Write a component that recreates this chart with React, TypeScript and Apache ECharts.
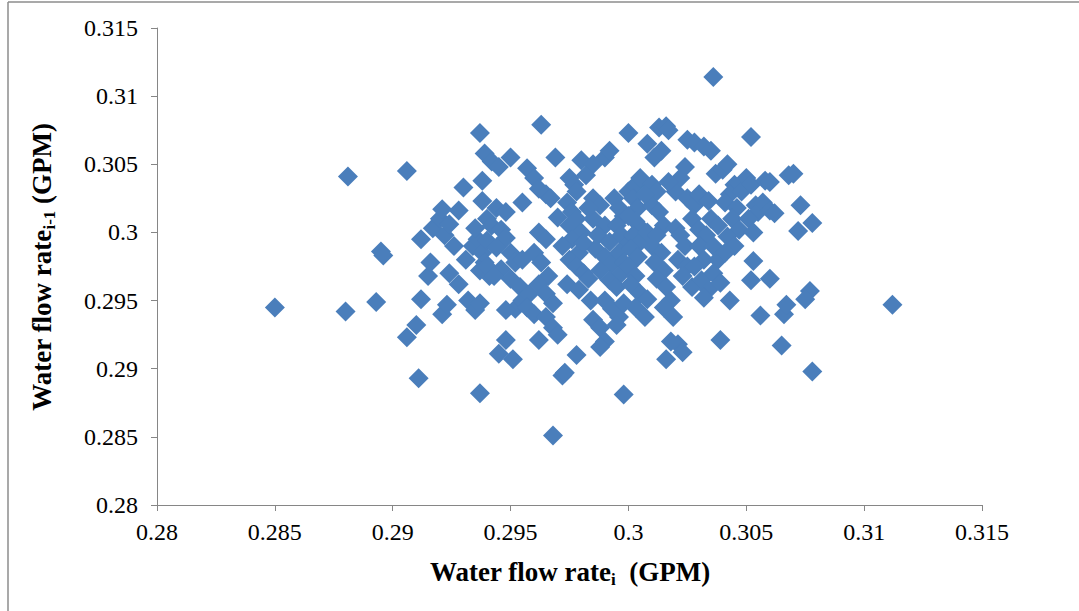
import React, { useEffect, useRef } from "react";
import * as echarts from "echarts";

// Axis ticks
const tickMin = 0.28;
const tickMax = 0.315;
const tickStep = 0.005;

// Scattered outer points [flow rate i, flow rate i-1]
const outerPoints: number[][] = [
  [0.285, 0.2945], [0.2881, 0.3041], [0.288, 0.2942], [0.2893, 0.2949],
  [0.2895, 0.2986], [0.2896, 0.2983], [0.2906, 0.3045], [0.2906, 0.2923],
  [0.291, 0.2932], [0.2911, 0.2893], [0.2912, 0.2995], [0.2912, 0.2951],
  [0.2937, 0.3073], [0.2937, 0.2882], [0.2945, 0.2911], [0.2948, 0.2921],
  [0.2951, 0.2907], [0.2963, 0.3079], [0.2968, 0.2851], [0.2972, 0.2895],
  [0.2973, 0.2897], [0.2978, 0.291], [0.2998, 0.2881], [0.3, 0.3073],
  [0.3008, 0.3065], [0.3013, 0.3077], [0.3016, 0.3078], [0.3017, 0.3075],
  [0.3036, 0.3114], [0.3052, 0.307], [0.3068, 0.3042], [0.307, 0.3043],
  [0.3073, 0.302], [0.3072, 0.3001], [0.3078, 0.3007], [0.3077, 0.2957],
  [0.3075, 0.2951], [0.3078, 0.2898], [0.3112, 0.2947], [0.3065, 0.2917],
  [0.3066, 0.294], [0.3067, 0.2947], [0.306, 0.2966], [0.3056, 0.2939],
  [0.3052, 0.2965], [0.3053, 0.2979], [0.3039, 0.2921], [0.3043, 0.295],
  [0.3021, 0.2918], [0.3023, 0.2912], [0.3016, 0.2907], [0.3018, 0.292],
];

// Left part of the cloud
const leftCloud: number[][] = [
  [0.2915, 0.2968], [0.2916, 0.2978], [0.2917, 0.3003], [0.292, 0.301],
  [0.2921, 0.3017], [0.2922, 0.2998], [0.2921, 0.294], [0.2923, 0.2947],
  [0.2924, 0.297], [0.2924, 0.3006], [0.2926, 0.299], [0.2928, 0.3016],
  [0.293, 0.3033], [0.2928, 0.2962], [0.2931, 0.298], [0.2932, 0.295],
  [0.2935, 0.2943], [0.2934, 0.299], [0.2936, 0.2995], [0.2938, 0.2985],
  [0.2939, 0.2978], [0.2937, 0.2972], [0.2941, 0.2968], [0.294, 0.2975],
  [0.2935, 0.3003], [0.294, 0.301], [0.2942, 0.3005], [0.2938, 0.3038],
  [0.2939, 0.3058], [0.2942, 0.3052], [0.294, 0.2994], [0.2938, 0.3023],
  [0.2945, 0.3048], [0.295, 0.3055], [0.2944, 0.3018], [0.2948, 0.3015],
  [0.2946, 0.3002], [0.2948, 0.2996], [0.2944, 0.2989], [0.295, 0.2985],
  [0.2952, 0.2978], [0.2955, 0.298], [0.2946, 0.2973], [0.2943, 0.2968],
  [0.295, 0.2966], [0.2954, 0.296], [0.2952, 0.2944], [0.2948, 0.2943],
  [0.2955, 0.295], [0.2958, 0.2955], [0.2957, 0.2945], [0.2937, 0.2948],
];

// Middle part of the cloud
const middleCloud: number[][] = [
  [0.2955, 0.3022], [0.2957, 0.3047], [0.296, 0.304], [0.2962, 0.3032],
  [0.2965, 0.3028], [0.2967, 0.3025], [0.2962, 0.3], [0.2965, 0.2995],
  [0.296, 0.2985], [0.2963, 0.2978], [0.2966, 0.2968], [0.2962, 0.2962],
  [0.2965, 0.2955], [0.2968, 0.2948], [0.296, 0.294], [0.2965, 0.2938],
  [0.2962, 0.2921], [0.2968, 0.293], [0.297, 0.2925], [0.297, 0.3011],
  [0.2969, 0.3055], [0.2975, 0.304], [0.2977, 0.3035], [0.298, 0.3053],
  [0.2978, 0.303], [0.2974, 0.3022], [0.2976, 0.3015], [0.2978, 0.301],
  [0.2975, 0.3005], [0.298, 0.3], [0.2976, 0.2995], [0.2972, 0.299],
  [0.2979, 0.2985], [0.2975, 0.298], [0.2978, 0.2975], [0.2981, 0.297],
  [0.2974, 0.2962], [0.2979, 0.2958], [0.2983, 0.2966], [0.2984, 0.295],
  [0.2985, 0.2936], [0.2988, 0.293], [0.299, 0.292], [0.2988, 0.2916],
  [0.2985, 0.305], [0.299, 0.3055], [0.2992, 0.306], [0.2985, 0.3025],
  [0.2988, 0.302], [0.2985, 0.301], [0.299, 0.3005], [0.2987, 0.2998],
  [0.2992, 0.2993], [0.2986, 0.2988], [0.299, 0.2982], [0.2993, 0.2977],
  [0.2988, 0.2972], [0.2992, 0.2965], [0.2995, 0.296], [0.299, 0.295],
  [0.2993, 0.2944], [0.2996, 0.2938], [0.2995, 0.2932], [0.2998, 0.2948],
  [0.2994, 0.3025], [0.2996, 0.3018], [0.2998, 0.3012], [0.2995, 0.3005],
  [0.2997, 0.2998], [0.2999, 0.299], [0.2996, 0.2985], [0.2998, 0.2978],
  [0.2997, 0.297], [0.2982, 0.3042], [0.2983, 0.3018], [0.2981, 0.2992],
];

// Right part of the cloud
const rightCloud: number[][] = [
  [0.3, 0.303], [0.3003, 0.3035], [0.3005, 0.304], [0.3002, 0.3025],
  [0.3004, 0.3018], [0.3, 0.3012], [0.3003, 0.3008], [0.3006, 0.3002],
  [0.3002, 0.2998], [0.3005, 0.2993], [0.3001, 0.2988], [0.3004, 0.2982],
  [0.3, 0.2975], [0.3003, 0.2968], [0.3001, 0.2962], [0.3005, 0.2955],
  [0.3003, 0.2945], [0.3007, 0.2938], [0.3008, 0.2951], [0.3008, 0.3],
  [0.301, 0.3035], [0.3012, 0.303], [0.3011, 0.3055], [0.3014, 0.306],
  [0.301, 0.302], [0.3013, 0.3015], [0.3015, 0.3005], [0.3012, 0.2998],
  [0.301, 0.299], [0.3014, 0.2985], [0.3011, 0.2978], [0.3015, 0.2972],
  [0.3012, 0.2966], [0.3016, 0.296], [0.3018, 0.295], [0.3015, 0.2945],
  [0.3019, 0.2938], [0.302, 0.303], [0.3022, 0.304], [0.3024, 0.3048],
  [0.3025, 0.3068], [0.3028, 0.3066], [0.3032, 0.3063], [0.3035, 0.306],
  [0.302, 0.3003], [0.3022, 0.2998], [0.3024, 0.299], [0.3021, 0.298],
  [0.3025, 0.2975], [0.3023, 0.2968], [0.3027, 0.296], [0.3025, 0.3025],
  [0.3028, 0.302], [0.303, 0.3028], [0.3027, 0.301], [0.303, 0.3002],
  [0.3033, 0.2998], [0.303, 0.299], [0.3032, 0.298], [0.3028, 0.2975],
  [0.3031, 0.2965], [0.3034, 0.2958], [0.3032, 0.2952], [0.3036, 0.299],
  [0.3035, 0.301], [0.3038, 0.3005], [0.3034, 0.3023], [0.3037, 0.3043],
  [0.304, 0.3046], [0.3038, 0.298], [0.3036, 0.297], [0.3039, 0.2963],
  [0.3042, 0.305], [0.3045, 0.3035], [0.3043, 0.3028], [0.3041, 0.3022],
  [0.3046, 0.3018], [0.3044, 0.301], [0.3047, 0.3002], [0.3042, 0.2997],
  [0.3045, 0.299], [0.3048, 0.303], [0.305, 0.304], [0.3052, 0.3035],
  [0.3054, 0.302], [0.3055, 0.3015], [0.3051, 0.301], [0.3053, 0.3],
  [0.3057, 0.3022], [0.3058, 0.3038], [0.306, 0.3037], [0.306, 0.3016],
  [0.3062, 0.3014], [0.3017, 0.3037], [0.3007, 0.3028], [0.3041, 0.2985],
];

const allPoints = [...outerPoints, ...leftCloud, ...middleCloud, ...rightCloud];

const fmt = (v: number) => String(parseFloat(v.toFixed(3)));

export default function App() {
  const ref = useRef<HTMLDivElement>(null);
  useEffect(() => {
    if (!ref.current) return;
    const chart = echarts.init(ref.current, undefined, { renderer: "svg" });
    const serif = "'Liberation Serif', 'Times New Roman', serif";
    const axisCommon = {
      type: "value" as const,
      min: tickMin,
      max: tickMax,
      interval: tickStep,
      axisLine: { show: true, lineStyle: { color: "#868686", width: 1 } },
      axisTick: { show: true, inside: false, length: 6, lineStyle: { color: "#868686" } },
      splitLine: { show: false },
      axisLabel: {
        color: "#000",
        fontFamily: serif,
        fontSize: 24,
        formatter: (v: number) => fmt(v),
      },
    };
    const rich = {
      a: { fontFamily: serif, fontWeight: "bold", fontSize: 27, lineHeight: 31, fill: "#000" },
      s: { fontFamily: serif, fontWeight: "bold", fontSize: 17, lineHeight: 17, verticalAlign: "bottom", fill: "#000" },
    };
    chart.setOption({
      animation: false,
      backgroundColor: "#fff",
      grid: { left: 157, right: 97, top: 28, bottom: 106, containLabel: false },
      xAxis: { ...axisCommon, axisLabel: { ...axisCommon.axisLabel, margin: 15 } },
      yAxis: { ...axisCommon, axisLabel: { ...axisCommon.axisLabel, margin: 19 } },
      series: [
        {
          type: "scatter",
          symbol: "diamond",
          symbolSize: 20,
          itemStyle: { color: "#4a7ebb", opacity: 1 },
          data: allPoints,
        },
      ],
      graphic: [
        {
          type: "line",
          shape: { x1: 8, y1: 2, x2: 1079, y2: 2 },
          style: { stroke: "#8c8c8c", lineWidth: 1.5 },
        },
        {
          type: "line",
          shape: { x1: 8, y1: 2, x2: 8, y2: 611 },
          style: { stroke: "#8c8c8c", lineWidth: 1.5 },
        },
        {
          type: "text",
          x: 570,
          y: 572,
          style: {
            text: "{a|Water flow rate}{s|i}{a|  (GPM)}",
            align: "center",
            verticalAlign: "middle",
            rich,
          },
        },
        {
          type: "text",
          x: 42,
          y: 267,
          rotation: Math.PI / 2,
          style: {
            text: "{a|Water flow rate}{s|i-1}{a| (GPM)}",
            align: "center",
            verticalAlign: "middle",
            rich,
          },
        },
      ],
    });
    return () => chart.dispose();
  }, []);
  return (
    <div
      ref={ref}
      style={{ position: "fixed", left: 0, top: 0, width: 1079, height: 611 }}
    />
  );
}
